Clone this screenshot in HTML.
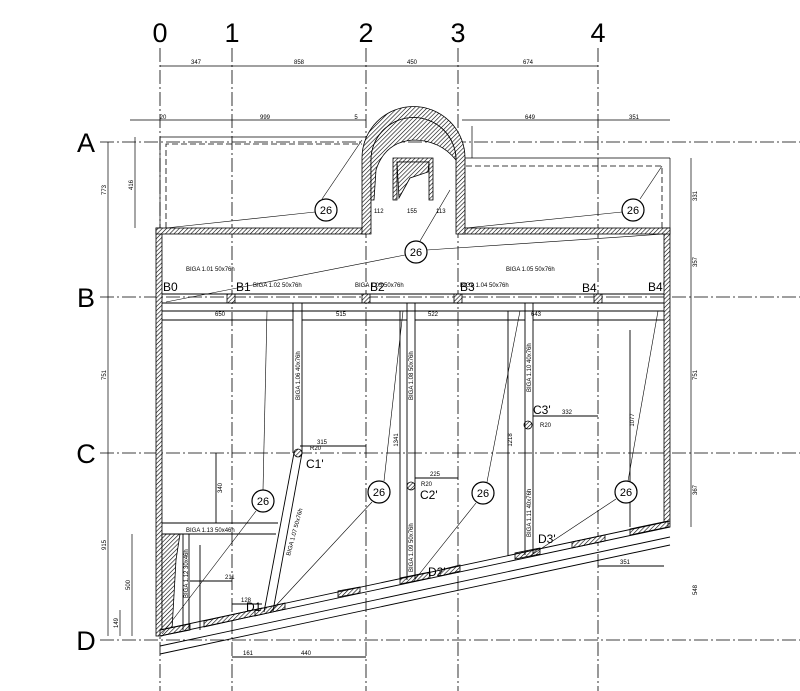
<!DOCTYPE html>
<html><head><meta charset="utf-8"><style>
html,body{margin:0;padding:0;background:#fff}
svg{display:block}
text{font-family:"Liberation Sans",sans-serif}
.s{font-size:6px}
.g{font-family:"DejaVu Sans",sans-serif;font-size:27px}
.n{font-family:"Liberation Serif",serif;font-size:12px}
</style></head><body>
<svg width="800" height="691" viewBox="0 0 800 691" xmlns="http://www.w3.org/2000/svg">
<defs>
<pattern id="h" width="3" height="3" patternUnits="userSpaceOnUse" patternTransform="rotate(45)">
<rect width="3" height="3" fill="#fff"/><line x1="0" y1="0" x2="0" y2="3" stroke="#000" stroke-width="1.2"/></pattern>
</defs>
<g stroke="#000" stroke-width="0.8" stroke-dasharray="14,3,2,3" fill="none">
<line x1="160" y1="48" x2="160" y2="691"/>
<line x1="232" y1="48" x2="232" y2="691"/>
<line x1="366" y1="48" x2="366" y2="691"/>
<line x1="458" y1="48" x2="458" y2="691"/>
<line x1="598" y1="48" x2="598" y2="691"/>
<line x1="100" y1="142" x2="800" y2="142"/>
<line x1="100" y1="297" x2="800" y2="297"/>
<line x1="100" y1="453" x2="800" y2="453"/>
<line x1="100" y1="640" x2="800" y2="640"/>
</g>
<g class="g" text-anchor="middle">
<text x="160" y="42">0</text><text x="232" y="42">1</text><text x="366" y="42">2</text><text x="458" y="42">3</text><text x="598" y="42">4</text>
<text x="86" y="152">A</text><text x="86" y="307">B</text><text x="86" y="463">C</text><text x="86" y="650">D</text>
</g>
<g stroke="#000" stroke-width="0.7" fill="none">
<line x1="160" y1="66" x2="598" y2="66"/>
<line x1="130" y1="120" x2="366" y2="120"/><line x1="462" y1="120" x2="670" y2="120"/>
<line x1="108" y1="142" x2="108" y2="636"/><line x1="135" y1="137" x2="135" y2="228"/>
<line x1="691" y1="158" x2="691" y2="527"/>
<line x1="160" y1="137" x2="366" y2="137"/><line x1="160" y1="137" x2="160" y2="228"/>
<line x1="462" y1="158" x2="670" y2="158"/><line x1="670" y1="158" x2="670" y2="228"/>
<line x1="472" y1="158" x2="472" y2="126"/>
<line x1="132" y1="534" x2="132" y2="636"/><line x1="120" y1="610" x2="120" y2="636"/>
</g>
<g stroke="#000" stroke-width="0.8" stroke-dasharray="6,3" fill="none">
<polyline points="166,228 166,144 362,144"/>
<polyline points="466,166 662,166 662,228"/>
</g>
<g class="s" text-anchor="middle">
<text x="196" y="64">347</text><text x="299" y="64">858</text><text x="412" y="64">450</text><text x="528" y="64">674</text>
<text x="163" y="119">20</text><text x="265" y="119">999</text><text x="356" y="119">5</text><text x="530" y="119">649</text><text x="634" y="119">351</text>
</g>
<g class="s" text-anchor="middle">
<text transform="translate(106,190) rotate(-90)">773</text>
<text transform="translate(133,185) rotate(-90)">416</text>
<text transform="translate(106,375) rotate(-90)">751</text>
<text transform="translate(106,545) rotate(-90)">915</text>
<text transform="translate(130,585) rotate(-90)">500</text>
<text transform="translate(118,623) rotate(-90)">149</text>
<text transform="translate(697,196) rotate(-90)">331</text>
<text transform="translate(697,262) rotate(-90)">357</text>
<text transform="translate(697,375) rotate(-90)">751</text>
<text transform="translate(697,490) rotate(-90)">367</text>
<text transform="translate(697,590) rotate(-90)">548</text>
<text transform="translate(222,488) rotate(-90)">340</text>
<text transform="translate(398,440) rotate(-90)">1341</text>
<text transform="translate(512,440) rotate(-90)">1218</text>
<text transform="translate(634,420) rotate(-90)">1077</text>
</g>
<!-- walls -->
<g fill="url(#h)" stroke="#000" stroke-width="0.8">
<rect x="156" y="228" width="6" height="408"/>
<rect x="664" y="228" width="6" height="299"/>
<rect x="156" y="228" width="210" height="6"/>
<rect x="460" y="228" width="210" height="6"/>
<path d="M362,234 L362,158 A51.5,51.5 0 0 1 465,158 L465,234 L456,234 L456,160 A42.5,42.5 0 0 0 371,160 L371,234 Z"/>
<path d="M371,160 A42.5,42.5 0 0 1 456,160 Q440,140 413,140 Q385,142 376,170 L374,200 L371,200 Z"/>
<path d="M393,200 L393,158 L433,158 L433,200 L429,200 L429,162 L397,162 L397,200 Z"/>
<path d="M397,162 L429,162 L428,172 L410,178 L399,198 Z"/>
<rect x="227" y="294" width="8" height="9"/><rect x="362" y="294" width="8" height="9"/><rect x="454" y="294" width="8" height="9"/><rect x="594" y="294" width="8" height="9"/>
<path d="M162,534 L180,534 L176,560 L172,630 L162,632 Z"/>
<polygon points="160,636 190,630 190,624 160,630"/>
<polygon points="204,627 262,614 262,608 204,621"/>
<polygon points="255,616 285,609 285,603 255,610"/>
<polygon points="338,597 360,593 360,587 338,591"/>
<polygon points="400,584 430,578 430,572 400,578"/>
<polygon points="440,576 460,571 460,565 440,570"/>
<polygon points="515,559 540,554 540,548 515,553"/>
<polygon points="572,548 605,541 605,535 572,542"/>
<polygon points="630,535 668,527 668,521 630,529"/>
<circle cx="298" cy="453" r="4"/><circle cx="411" cy="486" r="4"/><circle cx="528" cy="425" r="4"/>
</g>
<g stroke="#000" stroke-width="0.9" fill="none">
<line x1="162" y1="294" x2="664" y2="294"/><line x1="162" y1="303" x2="664" y2="303"/>
<line x1="162" y1="311" x2="664" y2="311"/>
<line x1="293" y1="303" x2="293" y2="453"/><line x1="302" y1="303" x2="302" y2="453"/>
<line x1="294" y1="453" x2="264" y2="612"/><line x1="302" y1="453" x2="273" y2="611"/>
<line x1="407" y1="303" x2="407" y2="580"/><line x1="415" y1="303" x2="415" y2="579"/>
<line x1="525" y1="303" x2="525" y2="555"/><line x1="533" y1="303" x2="533" y2="554"/>
<line x1="162" y1="523" x2="278" y2="523"/><line x1="162" y1="534" x2="276" y2="534"/>
<line x1="183" y1="534" x2="183" y2="630"/><line x1="189" y1="534" x2="189" y2="629"/>
<line x1="160" y1="636" x2="670" y2="527"/><line x1="160" y1="630" x2="670" y2="521"/>
<line x1="160" y1="646" x2="670" y2="537"/><line x1="160" y1="654" x2="670" y2="545"/>
<line x1="630" y1="330" x2="630" y2="527"/><line x1="508" y1="311" x2="508" y2="556"/><line x1="400" y1="311" x2="400" y2="580"/>
<line x1="216" y1="453" x2="216" y2="523"/><line x1="200" y1="545" x2="200" y2="630"/>
<line x1="300" y1="446" x2="366" y2="446"/><line x1="415" y1="478" x2="458" y2="478"/><line x1="533" y1="416" x2="598" y2="416"/>
<line x1="162" y1="320" x2="293" y2="320"/><line x1="302" y1="320" x2="407" y2="320"/><line x1="415" y1="320" x2="525" y2="320"/><line x1="533" y1="320" x2="664" y2="320"/>
<line x1="232" y1="657" x2="366" y2="657"/><line x1="598" y1="566" x2="664" y2="566"/>
<line x1="190" y1="581" x2="232" y2="581"/><line x1="232" y1="604" x2="262" y2="604"/>
</g>
<!-- leaders -->
<g stroke="#000" stroke-width="0.6" fill="none">
<line x1="315" y1="212" x2="166" y2="228"/><line x1="322" y1="199" x2="362" y2="140"/>
<line x1="622" y1="212" x2="466" y2="228"/><line x1="640" y1="199" x2="662" y2="166"/>
<line x1="405" y1="255" x2="166" y2="302"/><line x1="427" y1="250" x2="664" y2="234"/><line x1="420" y1="241" x2="450" y2="190"/>
<line x1="263" y1="490" x2="267" y2="311"/><line x1="256" y1="511" x2="162" y2="634"/>
<line x1="384" y1="481" x2="403" y2="311"/><line x1="372" y1="502" x2="270" y2="612"/>
<line x1="487" y1="482" x2="520" y2="311"/><line x1="476" y1="503" x2="413" y2="582"/>
<line x1="628" y1="481" x2="658" y2="311"/><line x1="616" y1="499" x2="530" y2="556"/>
</g>
<g fill="#fff" stroke="#000" stroke-width="1.2">
<circle cx="326" cy="210" r="11"/><circle cx="633" cy="210" r="11"/><circle cx="416" cy="252" r="11"/>
<circle cx="263" cy="501" r="11"/><circle cx="379" cy="492" r="11"/><circle cx="483" cy="493" r="11"/><circle cx="626" cy="492" r="11"/>
</g>
<g font-size="11" text-anchor="middle" font-family="Liberation Sans">
<text x="326" y="214">26</text><text x="633" y="214">26</text><text x="416" y="256">26</text>
<text x="263" y="505">26</text><text x="379" y="496">26</text><text x="483" y="497">26</text><text x="626" y="496">26</text>
</g>
<g class="n">
<text x="163" y="291">B0</text><text x="236" y="291">B1</text><text x="370" y="291">B2</text><text x="460" y="291">B3</text><text x="582" y="292">B4</text><text x="648" y="291">B4'</text>
<text x="306" y="468">C1'</text><text x="420" y="499">C2'</text><text x="533" y="414">C3'</text>
<text x="246" y="611">D1</text><text x="428" y="576">D2'</text><text x="538" y="543">D3'</text>
</g>
<g class="s">
<text x="186" y="271">BIGA 1.01 50x76h</text><text x="253" y="287">BIGA 1.02 50x76h</text><text x="355" y="287">BIGA 1.03 50x76h</text>
<text x="460" y="287">BIGA 1.04 50x76h</text><text x="506" y="271">BIGA 1.05 50x76h</text>
<text x="186" y="532">BIGA 1.13 50x46h</text>
<text transform="translate(300,400) rotate(-90)">BIGA 1.06 40x76h</text>
<text transform="translate(413,400) rotate(-90)">BIGA 1.08 50x76h</text>
<text transform="translate(531,392) rotate(-90)">BIGA 1.10 40x76h</text>
<text transform="translate(413,572) rotate(-90)">BIGA 1.09 50x76h</text>
<text transform="translate(531,537) rotate(-90)">BIGA 1.11 40x76h</text>
<text transform="translate(188,598) rotate(-90)">BIGA 1.12 30x46h</text>
<text transform="translate(290,556) rotate(-75)">BIGA 1.07 50x76h</text>
<text x="215" y="316">650</text><text x="336" y="316">515</text><text x="428" y="316">522</text><text x="531" y="316">643</text>
<text x="317" y="444">315</text><text x="430" y="476">225</text><text x="562" y="414">332</text>
<text x="241" y="602">128</text><text x="225" y="579">211</text><text x="243" y="655">161</text><text x="301" y="655">440</text><text x="620" y="564">351</text>
<text x="310" y="450">R20</text><text x="421" y="486">R20</text><text x="540" y="427">R20</text>
<text x="374" y="213">112</text><text x="407" y="213">155</text><text x="436" y="213">113</text>
</g>
</svg>
</body></html>
